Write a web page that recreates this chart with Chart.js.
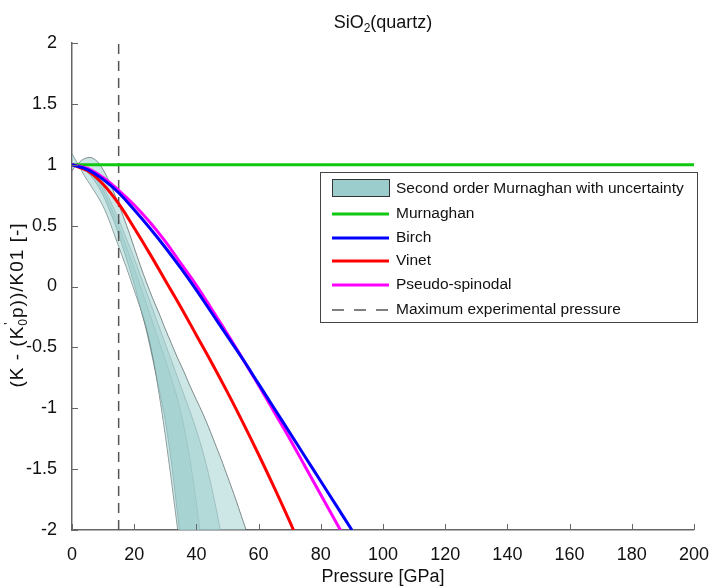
<!DOCTYPE html>
<html lang="en">
<head>
<meta charset="UTF-8">
<title>SiO2 (quartz)</title>
<script src="https://cdn.jsdelivr.net/npm/chart.js"></script>
<style>
	body { margin: 0; background: #fff; }
	#wrap { width: 715px; height: 588px; }
</style>
</head>
<body>
<div id="wrap"><canvas id="chart" width="715" height="588"></canvas></div>
<script>
// EOS curves, pressure in GPa
const eosPressure = [0, 5, 10, 15, 20, 25, 30, 35, 40, 45, 50, 55, 60, 65, 70, 75, 80, 85, 90];
const birch = [1.0, 0.96, 0.88, 0.77, 0.63, 0.48, 0.32, 0.15, -0.03, -0.22, -0.41, -0.60, -0.80, -1.00, -1.20, -1.40, -1.60, -1.80, -2.0];
const vinet = [1.0, 0.95, 0.84, 0.68, 0.48, 0.27, 0.05, -0.17, -0.40, -0.63, -0.87, -1.12, -1.38, -1.65, -1.93, -2.22, -2.52, -2.82, -3.12];
const pseudoSpinodal = [1.0, 0.97, 0.895, 0.79, 0.67, 0.53, 0.37, 0.19, 0.01, -0.19, -0.39, -0.60, -0.81, -1.03, -1.25, -1.48, -1.71, -1.94, -2.17];
const murnaghanPressure = [0, 200];
const murnaghan = [1, 1];
const maxExpPressure = 15;

// second order Murnaghan uncertainty band edges
const bandPressure = [0, 1, 2, 3, 4, 6, 8, 10, 12, 14, 16, 18, 20, 22, 24, 26, 28, 30, 32, 34, 36, 38, 40, 42, 44, 46, 48, 50, 52, 54, 56];
const outerHigh = [0.95, 0.985, 1.01, 1.035, 1.05, 1.06, 1.03, 0.96, 0.86, 0.74, 0.61, 0.47, 0.32, 0.17, 0.03, -0.10, -0.22, -0.35, -0.47, -0.59, -0.70, -0.82, -0.93, -1.04, -1.16, -1.29, -1.42, -1.56, -1.70, -1.85, -2.0];
const outerLow = [1.09, 1.045, 1.0, 0.955, 0.91, 0.83, 0.75, 0.66, 0.54, 0.40, 0.26, 0.12, -0.03, -0.18, -0.35, -0.58, -0.88, -1.22, -1.6, -2.0, -2.42, -2.86, -3.32, -3.8, -4.3, -4.82, -5.36, -5.92, -6.5, -7.1, -7.72];
const midRight = [1.0, 1.0, 1.0, 0.99, 0.98, 0.95, 0.90, 0.82, 0.72, 0.61, 0.49, 0.36, 0.23, 0.09, -0.05, -0.19, -0.33, -0.47, -0.61, -0.75, -0.89, -1.03, -1.18, -1.35, -1.55, -1.78, -2.04, -2.3, -2.6, -2.9, -3.2];
const innerLeft = [1.0, 1.0, 0.99, 0.98, 0.96, 0.91, 0.84, 0.75, 0.63, 0.50, 0.35, 0.19, 0.02, -0.17, -0.37, -0.6, -0.84, -1.1, -1.45, -1.88, -2.35, -2.85, -3.4, -4.0, -4.6, -5.2, -5.8, -6.4, -7.0, -7.6, -8.2];
const coreRight = [1.0, 1.0, 0.995, 0.985, 0.97, 0.93, 0.87, 0.79, 0.68, 0.56, 0.43, 0.29, 0.15, 0.0, -0.15, -0.30, -0.45, -0.60, -0.76, -0.93, -1.15, -1.43, -1.78, -2.2, -2.65, -3.1, -3.6, -4.1, -4.6, -5.1, -5.6];

const xTicks = [0, 20, 40, 60, 80, 100, 120, 140, 160, 180, 200];
const yTicks = [-2, -1.5, -1, -0.5, 0, 0.5, 1, 1.5, 2];

const legendLabels = ['Second order Murnaghan with uncertainty', 'Murnaghan', 'Birch', 'Vinet', 'Pseudo-spinodal', 'Maximum experimental pressure'];
const colors = { band: 'rgb(155,205,205)', murnaghan: '#10c810', birch: '#0000ff', vinet: '#ff0000', spinodal: '#ff00ff', dash: '#555555' };

const FONT = '"Liberation Sans", Arial, sans-serif';

function pts(xs, ys) {
	return xs.map((x, i) => ({ x: x, y: ys[i] }));
}

function bandLine(ys, fill, edge) {
	return {
		data: pts(bandPressure, ys),
		borderColor: edge,
		borderWidth: 0.8,
		backgroundColor: 'rgba(155,205,205,0.5)',
		fill: fill,
		pointRadius: 0,
		tension: 0.3,
		clip: 0,
		order: 5
	};
}

function curve(label, xs, ys, color) {
	return {
		label: label,
		data: pts(xs, ys),
		borderColor: color,
		borderWidth: 3,
		pointRadius: 0,
		tension: 0.4,
		fill: false,
		clip: 0,
		order: 1
	};
}

const datasets = [
	curve(legendLabels[2], eosPressure, birch, colors.birch),
	curve(legendLabels[4], eosPressure, pseudoSpinodal, colors.spinodal),
	curve(legendLabels[3], eosPressure, vinet, colors.vinet),
	curve(legendLabels[1], murnaghanPressure, murnaghan, colors.murnaghan),
	{
		label: legendLabels[5],
		data: [{ x: maxExpPressure, y: -2 }, { x: maxExpPressure, y: 2 }],
		borderColor: colors.dash,
		borderWidth: 1.5,
		borderDash: [10, 7],
		pointRadius: 0,
		fill: false,
		order: 3
	},
	bandLine(outerHigh, '+1', 'rgba(70,80,80,0.8)'),
	bandLine(outerLow, false, 'rgba(70,80,80,0.8)'),
	bandLine(midRight, '+1', 'rgba(90,110,110,0.6)'),
	bandLine(innerLeft, false, 'rgba(70,80,80,0.7)'),
	bandLine(coreRight, 8, 'rgba(90,110,110,0.6)')
];

// title, axis labels, inward ticks and the legend box
const decorations = {
	id: 'decorations',
	afterDraw(chart) {
		const { ctx, chartArea: a, scales: { x, y } } = chart;
		ctx.save();

		ctx.strokeStyle = '#666';
		ctx.lineWidth = 1;
		xTicks.forEach(v => {
			const px = Math.round(x.getPixelForValue(v)) + 0.5;
			ctx.beginPath(); ctx.moveTo(px, a.bottom); ctx.lineTo(px, a.bottom - 6); ctx.stroke();
		});
		yTicks.forEach(v => {
			const py = Math.round(y.getPixelForValue(v)) + 0.5;
			ctx.beginPath(); ctx.moveTo(a.left, py); ctx.lineTo(a.left + 6, py); ctx.stroke();
		});

		ctx.fillStyle = '#111';
		ctx.textBaseline = 'alphabetic';

		// title SiO2(quartz)
		const big = '18px ' + FONT, small = '12px ' + FONT;
		ctx.font = big; const w1 = ctx.measureText('SiO').width, w3 = ctx.measureText('(quartz)').width;
		ctx.font = small; const w2 = ctx.measureText('2').width;
		let tx = (a.left + a.right) / 2 - (w1 + w2 + w3) / 2;
		const ty = 28;
		ctx.font = big; ctx.fillText('SiO', tx, ty); tx += w1;
		ctx.font = small; ctx.fillText('2', tx, ty + 4); tx += w2;
		ctx.font = big; ctx.fillText('(quartz)', tx, ty);

		// x axis label
		ctx.font = big;
		ctx.textAlign = 'center';
		ctx.fillText('Pressure [GPa]', (a.left + a.right) / 2, 582);
		ctx.textAlign = 'left';

		// y axis label, rotated
		const yBig = '19px ' + FONT, ySmall = '12px ' + FONT;
		ctx.save();
		ctx.translate(23, 305);
		ctx.rotate(-Math.PI / 2);
		ctx.letterSpacing = '1px';
		const p1 = '(K - (K', p3 = 'p))/K01 [-]';
		ctx.font = yBig; const a1 = ctx.measureText(p1).width, a3 = ctx.measureText(p3).width;
		ctx.font = ySmall; const a2 = ctx.measureText('0').width;
		let lx = -(a1 + a2 + a3) / 2;
		ctx.font = yBig; ctx.fillText(p1, lx, 0); lx += a1;
		ctx.font = ySmall; ctx.fillText("'", lx + 1, -10); ctx.fillText('0', lx, 4); lx += a2;
		ctx.font = yBig; ctx.fillText(p3, lx, 0);
		ctx.restore();

		// legend
		const lb = { x: 320.5, y: 172.5, w: 377, h: 150 };
		ctx.fillStyle = '#fff';
		ctx.fillRect(lb.x, lb.y, lb.w, lb.h);
		ctx.strokeStyle = '#444';
		ctx.lineWidth = 1;
		ctx.strokeRect(lb.x, lb.y, lb.w, lb.h);
		const rows = [189, 214, 238, 261, 285, 310];
		const sx0 = 332, sx1 = 389;
		ctx.fillStyle = colors.band;
		ctx.fillRect(sx0, 179.5, sx1 - sx0, 17);
		ctx.strokeStyle = '#333';
		ctx.strokeRect(sx0 + 0.5, 179.5, sx1 - sx0, 17);
		const lineColors = [null, colors.murnaghan, colors.birch, colors.vinet, colors.spinodal, colors.dash];
		for (let i = 1; i < rows.length; i++) {
			ctx.beginPath();
			ctx.strokeStyle = lineColors[i];
			ctx.lineWidth = i === 5 ? 1.5 : 3;
			ctx.setLineDash(i === 5 ? [12, 10] : []);
			ctx.moveTo(sx0, rows[i]); ctx.lineTo(sx1, rows[i]);
			ctx.stroke();
		}
		ctx.setLineDash([]);
		ctx.fillStyle = '#111';
		ctx.font = '15.5px ' + FONT;
		ctx.textBaseline = 'middle';
		legendLabels.forEach((t, i) => ctx.fillText(t, 396, rows[i]));

		ctx.restore();
	}
};

new Chart(document.getElementById('chart'), {
	type: 'line',
	data: { datasets: datasets },
	options: {
		responsive: false,
		animation: false,
		layout: { padding: { top: 43, right: 17, left: 0, bottom: 0 } },
		plugins: { legend: { display: false }, tooltip: { enabled: false }, title: { display: false } },
		scales: {
			x: {
				type: 'linear', min: 0, max: 200,
				afterFit: s => { s.height = 58; },
				ticks: { stepSize: 20, color: '#111', font: { size: 18, family: FONT }, padding: 6, maxRotation: 0 },
				grid: { display: false },
				border: { display: true, color: '#666', width: 1.5 }
			},
			y: {
				type: 'linear', min: -2, max: 2,
				afterFit: s => { s.width = 72; },
				ticks: { stepSize: 0.5, color: '#111', font: { size: 18, family: FONT }, padding: 7, callback: v => String(v) },
				grid: { display: false },
				border: { display: true, color: '#666', width: 1.5 }
			}
		}
	},
	plugins: [decorations]
});
</script>
</body>
</html>
